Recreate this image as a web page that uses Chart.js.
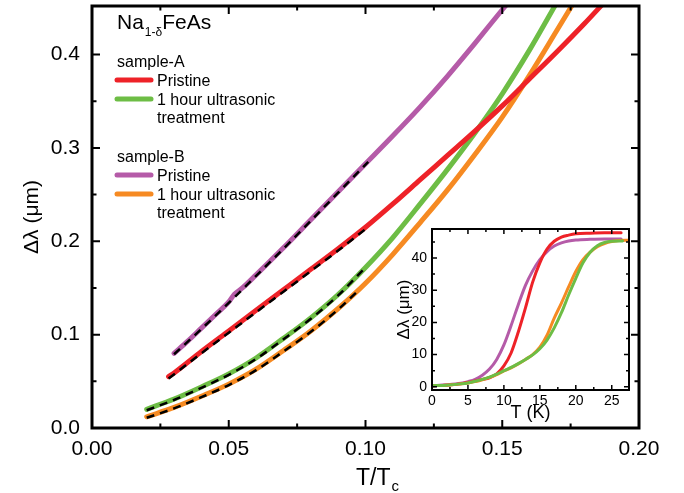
<!DOCTYPE html>
<html>
<head>
<meta charset="utf-8">
<script src="https://cdn.jsdelivr.net/npm/chart.js@4.4.1/dist/chart.umd.min.js"></script>
<style>
  body { margin: 0; background: #fff; }
  #wrap { position: relative; width: 684px; height: 493px; }
  #main { position: absolute; left: 0; top: 0; }
  #inset { position: absolute; left: 380px; top: 222px; }
</style>
</head>
<body>
<div id="wrap">
  <canvas id="main" width="684" height="493"></canvas>
  <canvas id="inset" width="255" height="205"></canvas>
</div>
<script>
const FONT = "'Liberation Sans', Arial, Helvetica, sans-serif";
const RED = '#ee2228';
const GREEN = '#6dbd45';
const PURPLE = '#b55ba8';
const ORANGE = '#f68a22';

// ---- main panel: delta lambda vs T/Tc ----
const aPristineX = [0.028, 0.03, 0.04, 0.05, 0.06, 0.07, 0.08, 0.09, 0.10, 0.11, 0.12, 0.13, 0.14, 0.15, 0.16, 0.17, 0.18, 0.187];
const aPristineY = [0.055, 0.059, 0.082, 0.104, 0.126, 0.148, 0.170, 0.192, 0.215, 0.240, 0.266, 0.292, 0.318, 0.345, 0.374, 0.403, 0.433, 0.455];

const aSonicX = [0.02, 0.03, 0.04, 0.05, 0.06, 0.07, 0.08, 0.09, 0.10, 0.11, 0.12, 0.13, 0.14, 0.15, 0.16, 0.17];
const aSonicY = [0.020, 0.031, 0.044, 0.058, 0.075, 0.096, 0.118, 0.143, 0.172, 0.204, 0.240, 0.277, 0.316, 0.358, 0.405, 0.456];

const bPristineX = [0.030, 0.035, 0.040, 0.045, 0.050, 0.052, 0.055, 0.060, 0.070, 0.080, 0.090, 0.100, 0.110, 0.120, 0.130, 0.140, 0.150, 0.152];
const bPristineY = [0.080, 0.093, 0.107, 0.121, 0.135, 0.143, 0.150, 0.164, 0.193, 0.223, 0.253, 0.283, 0.313, 0.344, 0.377, 0.412, 0.448, 0.455];

const bSonicX = [0.02, 0.03, 0.04, 0.05, 0.06, 0.07, 0.08, 0.09, 0.10, 0.11, 0.12, 0.13, 0.14, 0.15, 0.16, 0.17, 0.176];
const bSonicY = [0.012, 0.022, 0.034, 0.047, 0.063, 0.083, 0.104, 0.128, 0.155, 0.186, 0.220, 0.255, 0.293, 0.333, 0.378, 0.426, 0.455];

// dashed fits (low temperature part)
const aPristineFitX = [0.028, 0.04, 0.05, 0.06, 0.07, 0.08, 0.09, 0.10];
const aPristineFitY = [0.053, 0.080, 0.102, 0.124, 0.146, 0.168, 0.190, 0.213];
const aSonicFitX = [0.02, 0.03, 0.04, 0.05, 0.06, 0.07, 0.08, 0.09, 0.099];
const aSonicFitY = [0.019, 0.030, 0.043, 0.057, 0.074, 0.095, 0.117, 0.142, 0.169];
const bPristineFitX = [0.030, 0.04, 0.05, 0.06, 0.07, 0.08, 0.09, 0.101];
const bPristineFitY = [0.079, 0.106, 0.134, 0.163, 0.192, 0.222, 0.252, 0.285];
const bSonicFitX = [0.02, 0.03, 0.04, 0.05, 0.06, 0.07, 0.08, 0.09, 0.098];
const bSonicFitY = [0.011, 0.021, 0.033, 0.046, 0.062, 0.082, 0.103, 0.127, 0.149];

const mainXTicks = [0, 0.05, 0.10, 0.15, 0.20];
const mainXMinor = [0.025, 0.075, 0.125, 0.175];
const mainYTicks = [0, 0.1, 0.2, 0.3, 0.4];
const mainYMinor = [0.05, 0.15, 0.25, 0.35];

const legendLabels = ['sample-A', 'Pristine', '1 hour ultrasonic', 'treatment', 'sample-B', 'Pristine', '1 hour ultrasonic', 'treatment'];

// ---- inset: delta lambda vs T (K) ----
const insetBPristineT = [0, 2, 4, 5, 6, 7, 8, 9, 10, 11, 12, 13, 14, 15, 16, 17, 18, 19, 20, 22, 24, 26.3];
const insetBPristineL = [0.3, 0.6, 1.1, 1.6, 2.3, 3.6, 5.5, 8.5, 13, 19, 25.5, 31.5, 36, 39.5, 42, 43.7, 44.7, 45.3, 45.6, 45.8, 45.9, 45.9];

const insetAPristineT = [0, 2, 4, 5, 6, 7, 8, 9, 10, 11, 12, 13, 14, 15, 16, 17, 18, 19, 20, 22, 24, 26.3];
const insetAPristineL = [0.3, 0.5, 0.9, 1.3, 1.8, 2.3, 2.8, 4.0, 6.5, 10.5, 17, 24.5, 32.5, 38.5, 42.8, 45.2, 46.5, 47.1, 47.5, 47.7, 47.8, 47.8];

const insetASonicT = [0, 2, 4, 5, 6, 7, 8, 9, 10, 11, 12, 13, 14, 15, 16, 17, 18, 19, 20, 21, 22, 23, 24, 25, 26.5];
const insetASonicL = [0.3, 0.5, 0.9, 1.2, 1.7, 2.3, 3.0, 3.9, 5.0, 6.0, 7.2, 8.5, 9.9, 11.8, 14.5, 18.3, 23, 28.5, 33.7, 38.5, 41.8, 43.8, 44.8, 45.2, 45.3];

const insetBSonicT = [0, 2, 4, 5, 6, 7, 8, 9, 10, 11, 12, 13, 14, 15, 16, 17, 18, 19, 20, 21, 22, 23, 24, 25, 26, 27.4];
const insetBSonicL = [0.3, 0.5, 0.9, 1.2, 1.6, 2.2, 2.9, 3.8, 4.9, 5.9, 7.1, 8.5, 10.0, 12.3, 16, 21.3, 26, 31, 35.8, 39.5, 41.8, 43.5, 44.5, 45.1, 45.4, 45.5];

const insetXTicks = [0, 5, 10, 15, 20, 25];
const insetXMinor = [2.5, 7.5, 12.5, 17.5, 22.5];
const insetYTicks = [0, 10, 20, 30, 40];
const insetYMinor = [5, 15, 25, 35, 45];

const toPoints = (xs, ys) => xs.map((x, i) => ({ x: x, y: ys[i] }));

// box around the plot area plus inward ticks on all four sides
const frameTicks = {
  id: 'frameTicks',
  afterDraw(chart, args, opts) {
    const { ctx, chartArea: a, scales } = chart;
    const x = scales.x, y = scales.y;
    ctx.save();
    ctx.strokeStyle = '#000';
    ctx.lineCap = 'butt';
    ctx.lineWidth = opts.tickWidth;
    ctx.beginPath();
    const xMarks = (vals, len) => vals.forEach(v => {
      const px = x.getPixelForValue(v);
      ctx.moveTo(px, a.bottom); ctx.lineTo(px, a.bottom - len);
      ctx.moveTo(px, a.top); ctx.lineTo(px, a.top + len);
    });
    const yMarks = (vals, len) => vals.forEach(v => {
      const py = y.getPixelForValue(v);
      ctx.moveTo(a.left, py); ctx.lineTo(a.left + len, py);
      ctx.moveTo(a.right, py); ctx.lineTo(a.right - len, py);
    });
    xMarks(opts.xMajor, opts.major);
    xMarks(opts.xMinor, opts.minor);
    yMarks(opts.yMajor, opts.major);
    yMarks(opts.yMinor, opts.minor);
    ctx.stroke();
    ctx.lineWidth = opts.frameWidth;
    ctx.strokeRect(a.left, a.top, a.right - a.left, a.bottom - a.top);
    ctx.restore();
  }
};

// compound name, legend and x title with subscripts
const annotations = {
  id: 'annotations',
  afterDraw(chart) {
    const ctx = chart.ctx;
    ctx.save();
    ctx.fillStyle = '#000';
    ctx.textBaseline = 'alphabetic';
    ctx.textAlign = 'left';

    let x = 117;
    ctx.font = '21px ' + FONT;
    ctx.fillText('Na', x, 29);
    x += ctx.measureText('Na').width + 1;
    ctx.font = '12px ' + FONT;
    ctx.fillText('1-δ', x, 36);
    x += ctx.measureText('1-δ').width;
    ctx.font = '21px ' + FONT;
    ctx.fillText('FeAs', x, 29);

    ctx.font = '16px ' + FONT;
    ctx.fillText(legendLabels[0], 117, 67);
    ctx.fillText(legendLabels[1], 157, 86);
    ctx.fillText(legendLabels[2], 157, 105);
    ctx.fillText(legendLabels[3], 157, 123);
    ctx.fillText(legendLabels[4], 117, 162);
    ctx.fillText(legendLabels[5], 157, 181);
    ctx.fillText(legendLabels[6], 157, 200);
    ctx.fillText(legendLabels[7], 157, 218);

    ctx.lineWidth = 5;
    ctx.lineCap = 'round';
    [[RED, 80], [GREEN, 99], [PURPLE, 175], [ORANGE, 194]].forEach(([c, py]) => {
      ctx.strokeStyle = c;
      ctx.beginPath();
      ctx.moveTo(117, py);
      ctx.lineTo(151, py);
      ctx.stroke();
    });

    // x axis title T/Tc
    ctx.font = '23px ' + FONT;
    ctx.fillText('T/T', 356, 485);
    const w = ctx.measureText('T/T').width;
    ctx.font = '15px ' + FONT;
    ctx.fillText('c', 356 + w + 1, 491);
    ctx.restore();
  }
};

// lower order is drawn on top, so fits get order 0 and curves order 1
const curve = (data, color, width) => ({
  data: data,
  borderColor: color,
  borderWidth: width,
  borderCapStyle: 'round',
  pointRadius: 0,
  cubicInterpolationMode: 'monotone',
  clip: 0,
  order: 1
});

const fit = (data) => ({
  data: data,
  borderColor: '#000',
  borderWidth: 2.5,
  borderDash: [8, 6],
  pointRadius: 0,
  cubicInterpolationMode: 'monotone',
  clip: 0,
  order: 0
});

new Chart(document.getElementById('main'), {
  type: 'line',
  data: {
    datasets: [
      curve(toPoints(bPristineX, bPristineY), PURPLE, 5),
      curve(toPoints(aPristineX, aPristineY), RED, 5),
      curve(toPoints(aSonicX, aSonicY), GREEN, 5),
      curve(toPoints(bSonicX, bSonicY), ORANGE, 5),
      fit(toPoints(bPristineFitX, bPristineFitY)),
      fit(toPoints(aPristineFitX, aPristineFitY)),
      fit(toPoints(aSonicFitX, aSonicFitY)),
      fit(toPoints(bSonicFitX, bSonicFitY))
    ]
  },
  options: {
    responsive: false,
    animation: false,
    devicePixelRatio: 1,
    layout: { padding: { top: 6, right: 45, left: 0, bottom: 0 } },
    scales: {
      x: {
        type: 'linear',
        min: 0,
        max: 0.2,
        grid: { display: false, drawTicks: false },
        border: { display: false },
        afterBuildTicks: s => { s.ticks = mainXTicks.map(v => ({ value: v })); },
        afterFit: s => { s.height = 65; s.paddingLeft = 0; s.paddingRight = 0; },
        ticks: {
          padding: 9,
          color: '#000',
          font: { family: FONT, size: 21 },
          callback: v => v.toFixed(2)
        }
      },
      y: {
        type: 'linear',
        min: 0,
        max: 0.452,
        grid: { display: false, drawTicks: false },
        border: { display: false },
        afterBuildTicks: s => { s.ticks = mainYTicks.map(v => ({ value: v })); },
        afterFit: s => { s.width = 92; s.paddingTop = 0; s.paddingBottom = 0; },
        ticks: {
          padding: 12,
          color: '#000',
          font: { family: FONT, size: 21 },
          callback: v => v.toFixed(1)
        },
        title: {
          display: true,
          text: 'Δλ (μm)',
          color: '#000',
          font: { family: FONT, size: 21 },
          padding: { top: 20, bottom: 0 }
        }
      }
    },
    plugins: {
      legend: { display: false },
      tooltip: { enabled: false },
      frameTicks: {
        xMajor: mainXTicks, xMinor: mainXMinor,
        yMajor: mainYTicks, yMinor: mainYMinor,
        major: 8, minor: 4.5, tickWidth: 2, frameWidth: 3
      }
    }
  },
  plugins: [frameTicks, annotations]
});

new Chart(document.getElementById('inset'), {
  type: 'line',
  data: {
    datasets: [
      curve(toPoints(insetASonicT, insetASonicL), GREEN, 3),
      curve(toPoints(insetBSonicT, insetBSonicL), ORANGE, 3),
      curve(toPoints(insetAPristineT, insetAPristineL), RED, 3),
      curve(toPoints(insetBPristineT, insetBPristineL), PURPLE, 3)
    ]
  },
  options: {
    responsive: false,
    animation: false,
    devicePixelRatio: 1,
    layout: { padding: { top: 7, right: 6, left: 0, bottom: 0 } },
    scales: {
      x: {
        type: 'linear',
        min: 0,
        max: 27.4,
        grid: { display: false, drawTicks: false },
        border: { display: false },
        afterBuildTicks: s => { s.ticks = insetXTicks.map(v => ({ value: v })); },
        afterFit: s => { s.height = 37; s.paddingLeft = 0; s.paddingRight = 0; },
        ticks: {
          padding: 3,
          color: '#000',
          font: { family: FONT, size: 14 }
        },
        title: {
          display: true,
          text: 'T (K)',
          color: '#000',
          font: { family: FONT, size: 18 },
          padding: { top: 0, bottom: 3 }
        }
      },
      y: {
        type: 'linear',
        min: -1,
        max: 49,
        grid: { display: false, drawTicks: false },
        border: { display: false },
        afterBuildTicks: s => { s.ticks = insetYTicks.map(v => ({ value: v })); },
        afterFit: s => { s.width = 52; s.paddingTop = 0; s.paddingBottom = 0; },
        ticks: {
          padding: 5,
          color: '#000',
          font: { family: FONT, size: 14 }
        },
        title: {
          display: true,
          text: 'Δλ (μm)',
          color: '#000',
          font: { family: FONT, size: 17 },
          padding: { top: 14, bottom: 0 }
        }
      }
    },
    plugins: {
      legend: { display: false },
      tooltip: { enabled: false },
      frameTicks: {
        xMajor: insetXTicks, xMinor: insetXMinor,
        yMajor: insetYTicks, yMinor: insetYMinor,
        major: 5, minor: 3, tickWidth: 1.5, frameWidth: 2
      }
    }
  },
  plugins: [frameTicks]
});
</script>
</body>
</html>
